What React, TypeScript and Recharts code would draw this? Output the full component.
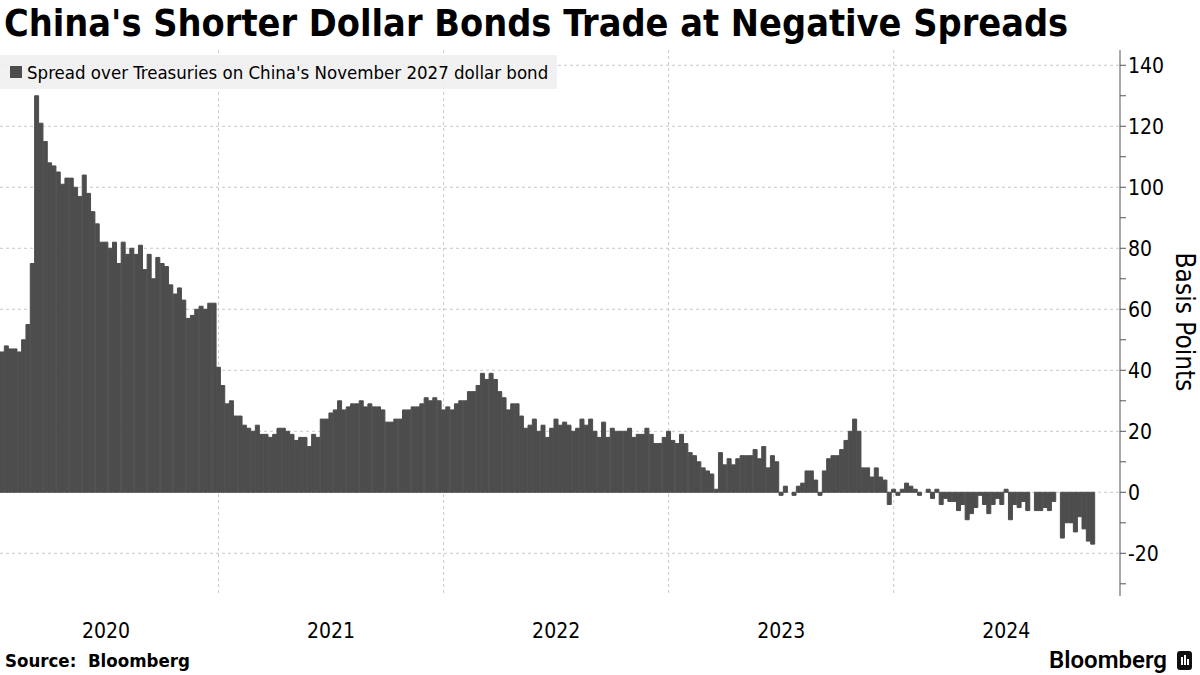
import React from 'react';
import { BarChart, Bar, XAxis, YAxis, CartesianGrid } from 'recharts';

// weekly observations, first one on Friday 17 Jan 2020
const START_DATE = Date.UTC(2020, 0, 17);
const DAY = 86400000;

// spread over Treasuries, basis points
const spread: number[] = [
  46, 48, 47, 47, 46, 50, 55, 75, 130, 121,
  115, 108, 107, 105, 101, 103, 103, 100, 97, 104,
  98, 92, 88, 82, 82, 80, 82, 75, 82, 78,
  80, 78, 81, 73, 78, 70, 77, 75, 74, 68,
  65, 67, 63, 57, 58, 60, 61, 60, 62, 62,
  41, 35, 29, 30, 25, 25, 22, 21, 20, 22,
  19, 19, 18, 19, 21, 21, 20, 19, 17, 18,
  18, 15, 19, 18, 24, 24, 26, 27, 30, 27,
  28, 29, 29, 30, 28, 29, 28, 28, 27, 23,
  23, 24, 24, 27, 27, 28, 28, 29, 31, 30,
  31, 30, 27, 28, 27, 29, 30, 30, 33, 33,
  35, 39, 37, 39, 37, 33, 31, 27, 29, 29,
  25, 21, 22, 24, 20, 22, 18, 21, 24, 22,
  23, 22, 20, 21, 24, 22, 24, 20, 18, 23,
  18, 21, 20, 20, 20, 21, 18, 19, 19, 21,
  19, 16, 16, 18, 20, 17, 16, 19, 16, 13,
  12, 10, 8, 7, 6, 1, 13, 9, 11, 9,
  11, 12, 12, 12, 14, 11, 15, 8, 12, 10,
  -1, 2, 0, -1, 2, 3, 7, 7, 4, -1,
  7, 11, 12, 12, 14, 17, 20, 24, 20, 8,
  8, 5, 8, 5, 4, -4, 1, -1, 1, 3,
  2, 1, -1, 0, 1, -2, 1, -4, -2, -3,
  -3, -6, -4, -9, -7, -5, -1, -4, -7, -4,
  -2, -4, 1, -9, -4, -5, -3, -6, 0, -6,
  -6, -5, -6, -3, 0, -15, -10, -10, -13, -8,
  -12, -16, -17,
];

const yearLabelTicks = ['2020-07-03', '2021-07-02', '2022-07-01', '2023-06-30', '2024-06-28'];
const yearStartTicks = ['2021-01-01', '2021-12-31', '2022-12-30', '2023-12-29'];
const yTicks = [-30, -20, -10, 0, 10, 20, 30, 40, 50, 60, 70, 80, 90, 100, 110, 120, 130, 140];
const yGridValues = [-20, 0, 20, 40, 60, 80, 100, 120, 140];

const data = spread.map((v, i) => ({
  date: new Date(START_DATE + i * 7 * DAY).toISOString().slice(0, 10),
  spread: v,
}));

const FONT = '"DejaVu Sans Condensed", "Liberation Sans Narrow", Roboto, sans-serif';
const BAR = '#4d4d4d';

const App: React.FC = () => {
  return (
    <div style={{ position: 'relative', width: 1200, height: 675, background: '#fff', fontFamily: FONT, overflow: 'hidden' }}>
      <style>{'body{margin:0}'}</style>

      <BarChart
        width={1200}
        height={675}
        data={data}
        barCategoryGap={0}
        margin={{ top: 50, right: 20, bottom: 19, left: 0 }}
      >
        <CartesianGrid
          stroke="#c8c8c8"
          strokeDasharray="3 3"
          horizontalValues={yGridValues}
          verticalValues={yearStartTicks}
        />
        <XAxis
          dataKey="date"
          ticks={yearLabelTicks}
          interval={0}
          tickFormatter={(d: string) => d.slice(0, 4)}
          axisLine={false}
          tickLine={false}
          tickMargin={21}
          height={60}
          padding={{ left: 0, right: 25 }}
          tick={{ fill: '#000', fontSize: 21, fontFamily: FONT }}
        />
        <YAxis
          orientation="right"
          domain={[-34, 145]}
          ticks={yTicks}
          interval={0}
          allowDataOverflow
          tickFormatter={(v: number) => (v % 20 === 0 ? String(v) : '')}
          axisLine={{ stroke: '#555' }}
          tickLine={{ stroke: '#555' }}
          tickSize={6}
          tickMargin={2}
          width={60}
          tick={{ fill: '#000', fontSize: 21, fontFamily: FONT }}
        />
        <Bar dataKey="spread" fill={BAR} stroke={BAR} strokeWidth={1} isAnimationActive={false} />
      </BarChart>

      <div style={{ position: 'absolute', left: 4, top: 1, fontSize: 37.5, fontWeight: 'bold', color: '#000', whiteSpace: 'nowrap' }}>
        China's Shorter Dollar Bonds Trade at Negative Spreads
      </div>

      <div style={{ position: 'absolute', left: 0, top: 55, width: 557, height: 34, background: 'rgba(240,240,240,0.9)', display: 'flex', alignItems: 'center' }}>
        <span style={{ display: 'inline-block', width: 12, height: 12, background: BAR, marginLeft: 10, marginRight: 5 }} />
        <span style={{ fontSize: 18.5, color: '#000', whiteSpace: 'nowrap' }}>
          Spread over Treasuries on China's November 2027 dollar bond
        </span>
      </div>

      <div style={{ position: 'absolute', left: 1185, top: 322, transform: 'translate(-50%, -50%) rotate(90deg)', fontSize: 26, color: '#000', whiteSpace: 'nowrap' }}>
        Basis Points
      </div>

      <div style={{ position: 'absolute', left: 5, top: 650, fontSize: 18.5, fontWeight: 'bold', color: '#000', whiteSpace: 'nowrap' }}>
        Source:&nbsp; Bloomberg
      </div>

      <div style={{ position: 'absolute', right: 8, top: 646, display: 'flex', alignItems: 'center', gap: 10 }}>
        <span style={{ fontSize: 24, fontWeight: 600, color: '#000', fontFamily: 'Roboto, sans-serif' }}>Bloomberg</span>
        <span style={{ position: 'relative', display: 'inline-block', width: 15, height: 19, background: '#111', borderRadius: 3 }}>
          <span style={{ position: 'absolute', left: 4, bottom: 5, width: 2, height: 8, background: '#fff' }} />
          <span style={{ position: 'absolute', left: 7, bottom: 5, width: 2, height: 10, background: '#fff' }} />
          <span style={{ position: 'absolute', left: 10, bottom: 5, width: 2, height: 6, background: '#fff' }} />
        </span>
      </div>
    </div>
  );
};

export default App;
